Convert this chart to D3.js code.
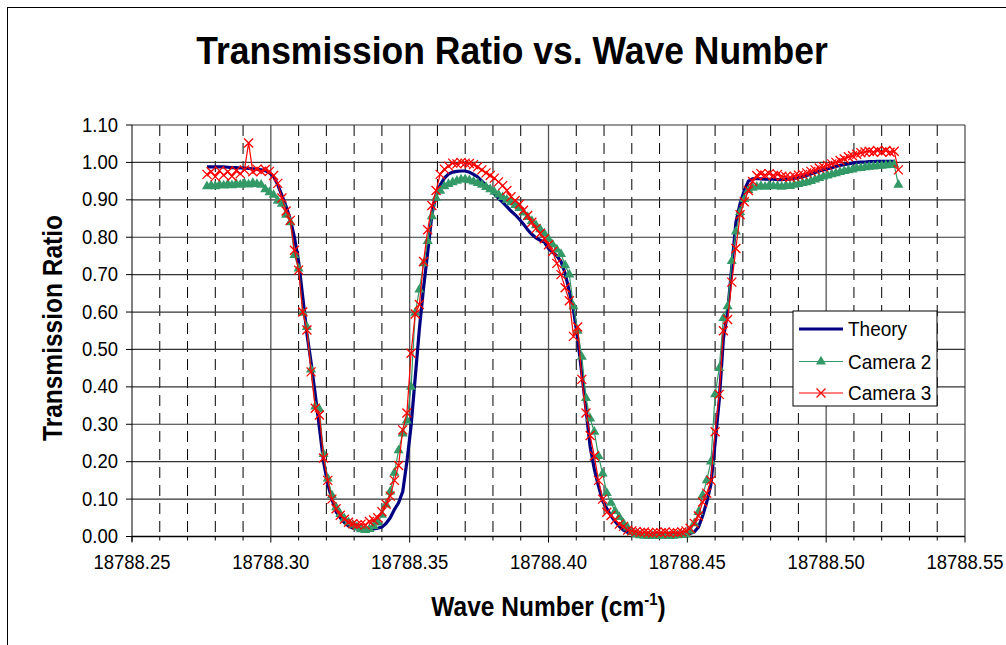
<!DOCTYPE html>
<html><head><meta charset="utf-8">
<script src="https://cdn.jsdelivr.net/npm/d3@7"></script>
<style>body{margin:0;background:#fff}svg{display:block}</style>
</head><body><svg id="chart" width="1006" height="645"></svg>
<script>
const waveNumber = [
18788.2770,18788.2785,18788.2800,18788.2815,18788.2830,18788.2845,18788.2860,18788.2875,18788.2890,18788.2905,
18788.2920,18788.2935,18788.2950,18788.2965,18788.2980,18788.2995,18788.3010,18788.3025,18788.3040,18788.3055,
18788.3070,18788.3085,18788.3100,18788.3115,18788.3130,18788.3145,18788.3160,18788.3175,18788.3190,18788.3205,
18788.3220,18788.3235,18788.3250,18788.3265,18788.3280,18788.3295,18788.3310,18788.3325,18788.3340,18788.3355,
18788.3370,18788.3385,18788.3400,18788.3415,18788.3430,18788.3445,18788.3460,18788.3475,18788.3490,18788.3505,
18788.3520,18788.3535,18788.3550,18788.3565,18788.3580,18788.3595,18788.3610,18788.3625,18788.3640,18788.3655,
18788.3670,18788.3685,18788.3700,18788.3715,18788.3730,18788.3745,18788.3760,18788.3775,18788.3790,18788.3805,
18788.3820,18788.3835,18788.3850,18788.3865,18788.3880,18788.3895,18788.3910,18788.3925,18788.3940,18788.3955,
18788.3970,18788.3985,18788.4000,18788.4015,18788.4030,18788.4045,18788.4060,18788.4075,18788.4090,18788.4105,
18788.4120,18788.4135,18788.4150,18788.4165,18788.4180,18788.4195,18788.4210,18788.4225,18788.4240,18788.4255,
18788.4270,18788.4285,18788.4300,18788.4315,18788.4330,18788.4345,18788.4360,18788.4375,18788.4390,18788.4405,
18788.4420,18788.4435,18788.4450,18788.4465,18788.4480,18788.4495,18788.4510,18788.4525,18788.4540,18788.4555,
18788.4570,18788.4585,18788.4600,18788.4615,18788.4630,18788.4645,18788.4660,18788.4675,18788.4690,18788.4705,
18788.4720,18788.4735,18788.4750,18788.4765,18788.4780,18788.4795,18788.4810,18788.4825,18788.4840,18788.4855,
18788.4870,18788.4885,18788.4900,18788.4915,18788.4930,18788.4945,18788.4960,18788.4975,18788.4990,18788.5005,
18788.5020,18788.5035,18788.5050,18788.5065,18788.5080,18788.5095,18788.5110,18788.5125,18788.5140,18788.5155,
18788.5170,18788.5185,18788.5200,18788.5215,18788.5230,18788.5245,18788.5260];

const theory = [
0.988,0.988,0.988,0.988,0.988,0.987,0.986,0.986,0.985,0.985,
0.984,0.983,0.982,0.980,0.978,0.972,0.962,0.940,0.912,0.882,
0.848,0.800,0.735,0.640,0.542,0.465,0.380,0.290,0.200,0.140,
0.100,0.066,0.050,0.037,0.028,0.023,0.020,0.018,0.017,0.018,
0.020,0.022,0.025,0.035,0.050,0.072,0.090,0.120,0.200,0.295,
0.425,0.555,0.665,0.760,0.860,0.912,0.940,0.958,0.969,0.974,
0.976,0.977,0.977,0.974,0.968,0.961,0.950,0.939,0.928,0.916,
0.904,0.893,0.882,0.870,0.860,0.848,0.835,0.820,0.808,0.798,
0.792,0.787,0.770,0.760,0.750,0.735,0.703,0.655,0.605,0.530,
0.435,0.340,0.240,0.180,0.135,0.095,0.075,0.055,0.040,0.027,
0.017,0.011,0.008,0.006,0.005,0.005,0.005,0.005,0.005,0.005,
0.005,0.005,0.005,0.005,0.005,0.006,0.008,0.012,0.025,0.055,
0.092,0.140,0.250,0.365,0.530,0.600,0.720,0.840,0.890,0.925,
0.950,0.956,0.957,0.956,0.955,0.955,0.955,0.954,0.954,0.955,
0.955,0.957,0.959,0.962,0.965,0.969,0.973,0.977,0.980,0.983,
0.986,0.989,0.992,0.994,0.996,0.998,1.000,1.001,1.001,1.002,
1.002,1.003,1.003,1.003,1.003,1.003];

const camera2 = [
0.936,0.938,0.936,0.940,0.938,0.942,0.939,0.943,0.940,0.944,
0.941,0.945,0.942,0.940,0.928,0.920,0.913,0.897,0.889,0.860,
0.840,0.752,0.716,0.598,0.560,0.446,0.347,0.340,0.220,0.155,
0.110,0.078,0.060,0.048,0.038,0.031,0.025,0.019,0.017,0.020,
0.028,0.037,0.058,0.085,0.120,0.170,0.230,0.275,0.310,0.400,
0.598,0.660,0.730,0.790,0.856,0.905,0.924,0.936,0.942,0.947,
0.951,0.954,0.955,0.952,0.949,0.945,0.940,0.934,0.928,0.921,
0.914,0.907,0.900,0.893,0.886,0.878,0.866,0.854,0.843,0.832,
0.821,0.810,0.795,0.780,0.767,0.755,0.725,0.700,0.615,0.550,
0.480,0.370,0.315,0.280,0.215,0.168,0.116,0.090,0.068,0.052,
0.035,0.024,0.012,0.006,0.003,0.002,0.001,0.002,0.001,0.002,
0.002,0.001,0.002,0.003,0.004,0.006,0.015,0.035,0.065,0.110,
0.150,0.200,0.380,0.450,0.584,0.615,0.736,0.815,0.867,0.902,
0.926,0.932,0.935,0.937,0.935,0.938,0.936,0.937,0.935,0.938,
0.937,0.940,0.942,0.945,0.947,0.950,0.954,0.958,0.962,0.965,
0.968,0.971,0.974,0.977,0.979,0.981,0.984,0.985,0.987,0.988,
0.989,0.990,0.991,0.992,0.993,0.994,0.940];

const camera3 = [
0.968,0.975,0.962,0.978,0.966,0.975,0.963,0.978,0.970,0.980,
1.052,0.975,0.982,0.976,0.981,0.976,0.965,0.944,0.905,0.870,
0.845,0.765,0.712,0.600,0.552,0.440,0.343,0.325,0.210,0.150,
0.100,0.074,0.057,0.046,0.038,0.034,0.031,0.033,0.031,0.040,
0.044,0.050,0.066,0.086,0.108,0.150,0.190,0.285,0.330,0.490,
0.595,0.620,0.735,0.820,0.885,0.925,0.968,0.982,0.990,0.998,
0.996,1.000,0.998,0.997,0.994,0.988,0.980,0.972,0.965,0.958,
0.948,0.938,0.925,0.908,0.898,0.888,0.872,0.858,0.840,0.823,
0.810,0.796,0.780,0.762,0.730,0.700,0.665,0.630,0.535,0.560,
0.420,0.330,0.270,0.215,0.150,0.100,0.065,0.056,0.045,0.033,
0.027,0.017,0.015,0.013,0.011,0.012,0.010,0.009,0.011,0.010,
0.012,0.009,0.011,0.010,0.012,0.015,0.022,0.035,0.055,0.092,
0.116,0.150,0.280,0.380,0.550,0.580,0.680,0.770,0.860,0.895,
0.925,0.949,0.965,0.970,0.966,0.970,0.965,0.968,0.963,0.962,
0.960,0.963,0.966,0.968,0.972,0.976,0.980,0.985,0.988,0.992,
0.996,1.000,1.005,1.010,1.015,1.018,1.022,1.026,1.028,1.030,
1.027,1.032,1.028,1.032,1.027,1.030,0.980];

const xTickValues = [18788.25,18788.30,18788.35,18788.40,18788.45,18788.50,18788.55];
const yTickValues = [0,0.1,0.2,0.3,0.4,0.5,0.6,0.7,0.8,0.9,1.0,1.1];
const seriesNames = ["Theory","Camera 2","Camera 3"];
const titleText = "Transmission Ratio vs. Wave Number";
const yTitleText = "Transmission Ratio";

const FONT = "'Liberation Sans', Arial, sans-serif";
const SY = 1.1;
const L = 132, R = 965, T = 125, B = 536.5;
const NAVY = "#000080", GREEN = "#339966", RED = "#ff0000";

const svg = d3.select("#chart");
svg.append("rect").attr("width",1006).attr("height",645).attr("fill","#fff");
svg.append("rect").attr("x",7.5).attr("y",7.5).attr("width",1200).attr("height",900)
  .attr("fill","none").attr("stroke","#000").attr("stroke-width",1);

const x = d3.scaleLinear().domain([18788.25,18788.55]).range([L,R]);
const y = d3.scaleLinear().domain([0,1.1]).range([B,T]);

function text(g, str, tx, ty, size, weight, anchor, rot) {
  return g.append("text")
    .attr("transform", `translate(${tx},${ty})` + (rot ? ` rotate(${rot})` : "") + ` scale(1,${SY})`)
    .attr("font-family", FONT).attr("font-size", size).attr("font-weight", weight)
    .attr("text-anchor", anchor).attr("fill","#000").text(str);
}

// gridlines
const grid = svg.append("g");
const minorTicks = x.ticks(30);
const isMajor = v => Math.abs(Math.round(v*100) % 5) === 0;
grid.selectAll("line.v").data(minorTicks.filter(v => !isMajor(v))).join("line")
  .attr("x1", d => x(d)).attr("x2", d => x(d)).attr("y1", T).attr("y2", B)
  .attr("stroke","#000").attr("stroke-width",1).attr("stroke-dasharray","11,7");
grid.selectAll("line.vm").data(xTickValues.slice(1)).join("line")
  .attr("x1", d => x(d)).attr("x2", d => x(d)).attr("y1", T).attr("y2", B)
  .attr("stroke","#555").attr("stroke-width",1.3);
grid.selectAll("line.h").data(yTickValues.slice(1)).join("line")
  .attr("x1", L).attr("x2", R).attr("y1", d => y(d)).attr("y2", d => y(d))
  .attr("stroke","#333").attr("stroke-width",1.2);

// axes
const ax = svg.append("g");
ax.append("line").attr("x1",L).attr("x2",L).attr("y1",T).attr("y2",B+5).attr("stroke","#000");
ax.append("line").attr("x1",L).attr("x2",R).attr("y1",B).attr("y2",B).attr("stroke","#000").attr("stroke-width",1.3);
ax.selectAll("line.yt").data(yTickValues).join("line")
  .attr("x1",L-6).attr("x2",L).attr("y1",d=>y(d)).attr("y2",d=>y(d)).attr("stroke","#000");
ax.selectAll("line.xt").data(minorTicks).join("line")
  .attr("x1",d=>x(d)).attr("x2",d=>x(d)).attr("y1",B).attr("y2",d=>B+(isMajor(d)?6:4)).attr("stroke","#000");

const fmt = d3.format(".2f");
yTickValues.forEach(v => text(ax, fmt(v), 118, y(v)+6.5, 18.5, "normal", "end"));
xTickValues.forEach(v => text(ax, fmt(v), x(v), 569, 18.5, "normal", "middle"));

// titles
text(svg, titleText, 512, 64, 35.5, "bold", "middle");
text(svg, yTitleText, 62, 328, 24.5, "bold", "middle", -90);
const xt = svg.append("text")
  .attr("transform", `translate(548.5,616) scale(1,${SY})`)
  .attr("font-family", FONT).attr("font-size", 24.5).attr("font-weight","bold").attr("text-anchor","middle");
xt.append("tspan").text("Wave Number (cm");
xt.append("tspan").attr("dy",-10).attr("font-size",15).text("-1");
xt.append("tspan").attr("dy",10).text(")");

// data
const data = waveNumber.map((w,i) => ({w, t: theory[i], c2: camera2[i], c3: camera3[i]}));
const plot = svg.append("g");
const lineT = d3.line().defined(d => d.t != null).x(d => x(d.w)).y(d => y(d.t));
const line2 = d3.line().x(d => x(d.w)).y(d => y(d.c2));
const line3 = d3.line().x(d => x(d.w)).y(d => y(d.c3));
plot.append("path").attr("d", lineT(data)).attr("fill","none").attr("stroke",NAVY).attr("stroke-width",3.2);
plot.append("path").attr("d", line2(data)).attr("fill","none").attr("stroke",GREEN).attr("stroke-width",1.2);
const tri = d3.symbol(d3.symbolTriangle, 44)();
plot.selectAll("path.tri").data(data).join("path")
  .attr("d", tri).attr("transform", d => `translate(${x(d.w)},${y(d.c2)})`).attr("fill",GREEN);
plot.append("path").attr("d", line3(data)).attr("fill","none").attr("stroke",RED).attr("stroke-width",1.2);
const cross = "M-4.5,-4.5L4.5,4.5M-4.5,4.5L4.5,-4.5";
plot.selectAll("path.x").data(data).join("path")
  .attr("d", cross).attr("transform", d => `translate(${x(d.w)},${y(d.c3)})`)
  .attr("fill","none").attr("stroke",RED).attr("stroke-width",1.3);

// legend
const lg = svg.append("g");
lg.append("rect").attr("x",793).attr("y",311).attr("width",144).attr("height",95)
  .attr("fill","#fff").attr("stroke","#000").attr("stroke-width",1);
const rowsY = [329, 361.5, 393];
lg.append("line").attr("x1",799).attr("x2",843).attr("y1",rowsY[0]).attr("y2",rowsY[0]).attr("stroke",NAVY).attr("stroke-width",3.2);
lg.append("line").attr("x1",799).attr("x2",843).attr("y1",rowsY[1]).attr("y2",rowsY[1]).attr("stroke",GREEN).attr("stroke-width",1.2);
lg.append("path").attr("d",tri).attr("transform",`translate(821,${rowsY[1]})`).attr("fill",GREEN);
lg.append("line").attr("x1",799).attr("x2",843).attr("y1",rowsY[2]).attr("y2",rowsY[2]).attr("stroke",RED).attr("stroke-width",1.2);
lg.append("path").attr("d",cross).attr("transform",`translate(821,${rowsY[2]})`).attr("fill","none").attr("stroke",RED).attr("stroke-width",1.3);
seriesNames.forEach((n,i) => text(lg, n, 848, rowsY[i]+7, 19, "normal", "start"));
</script></body></html>
